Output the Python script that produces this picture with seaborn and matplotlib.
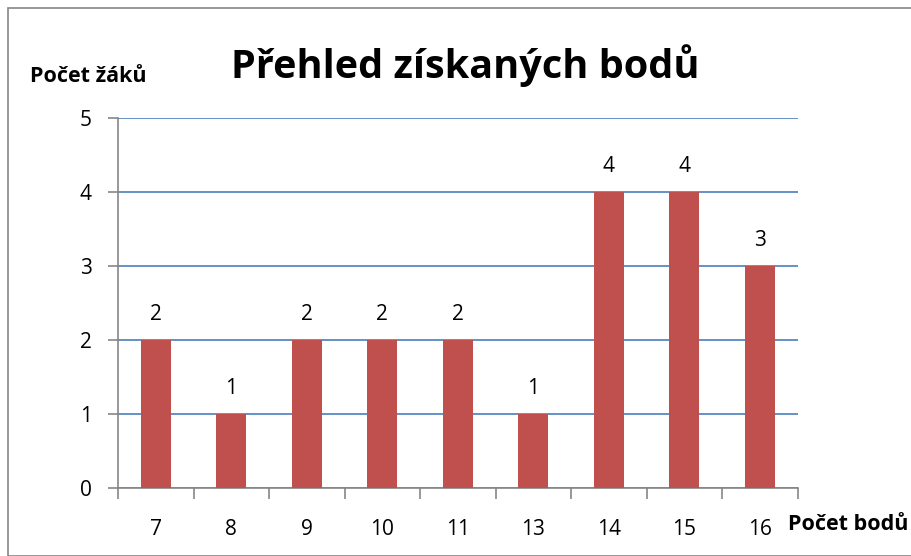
import matplotlib
matplotlib.use("Agg")
import matplotlib.pyplot as plt
import seaborn as sns
import pandas as pd
from matplotlib.patches import Rectangle

categories = ["7", "8", "9", "10", "11", "13", "14", "15", "16"]
counts = [2, 1, 2, 2, 2, 1, 4, 4, 3]
title = "Přehled získaných bodů"
ylabel = "Počet žáků"
xlabel = "Počet bodů"

sns.set_theme(style="white")
plt.rcParams['font.family'] = ['Open Sans', 'DejaVu Sans']
plt.rcParams['text.color'] = 'black'

df = pd.DataFrame({"body": categories, "pocet": counts})

fig = plt.figure(figsize=(9.12, 5.56), dpi=100)
ax = fig.add_axes([0.1294, 0.1223, 0.8746 - 0.1294, 0.7878 - 0.1223])

sns.barplot(data=df, x="body", y="pocet", color="#c0504d", width=0.4,
            saturation=1, linewidth=0, edgecolor="none", ax=ax, zorder=3)

ax.set_ylim(0, 5)
ax.set_xlim(-0.5, len(categories) - 0.5)
ax.set_yticks(range(0, 6))
ax.yaxis.grid(True, color="#4a7ebb", linewidth=1.2, zorder=1)
ax.xaxis.grid(False)

for s in ["top", "right"]:
    ax.spines[s].set_visible(False)
for s in ["left", "bottom"]:
    ax.spines[s].set_color("#868686")
    ax.spines[s].set_linewidth(1.2)

ax.tick_params(axis="x", which="major", bottom=False, length=0, labelsize=15, pad=22, colors="black")
ax.set_xticks([i - 0.5 for i in range(len(categories) + 1)], minor=True)
ax.tick_params(axis="x", which="minor", bottom=True, length=8, width=1.2, color="#868686", direction="out")
ax.tick_params(axis="y", which="major", left=True, length=7, width=1.2, color="#868686", labelsize=15, pad=12, labelcolor="black", direction="out")
ax.set_xlabel("")
ax.set_ylabel("")

for i, v in enumerate(counts):
    ax.text(i, v + 0.2, str(v), ha="center", va="bottom", fontsize=15, color="black")

fig.text(0.51, 0.882, title, ha="center", va="center", fontsize=28.5, fontweight="bold", color="black")
fig.text(0.033, 0.862, ylabel, ha="left", va="center", fontsize=15.5, fontweight="bold", color="black")
fig.text(0.864, 0.057, xlabel, ha="left", va="center", fontsize=15.5, fontweight="bold", color="black")

fig.patches.append(Rectangle((8 / 912, 0.0), 1.0, 1 - 8 / 556, transform=fig.transFigure,
                             fill=False, edgecolor="#868686", linewidth=1.2))

fig.savefig("out.png", dpi=100)
